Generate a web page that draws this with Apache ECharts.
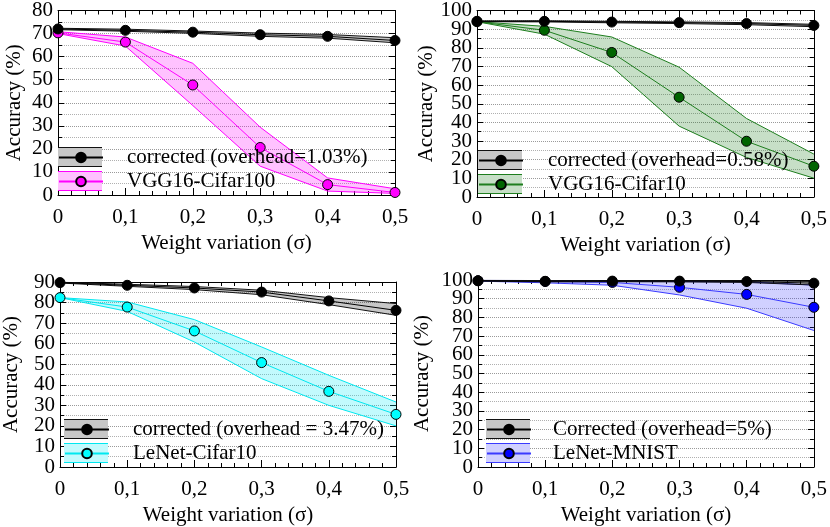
<!DOCTYPE html>
<html><head><meta charset="utf-8">
<script src="https://cdn.jsdelivr.net/npm/echarts@6/dist/echarts.min.js"></script>
<style>html,body{margin:0;padding:0;background:#fff}#c{width:830px;height:527px}</style>
</head><body><div id="c"></div>
<script>
// ---------- data ----------
const sigma = [0, 0.1, 0.2, 0.3, 0.4, 0.5];
const xTickLabels = ['0', '0,1', '0,2', '0,3', '0,4', '0,5'];

// Panel 1 : VGG16-Cifar100
const p1CorrName = 'corrected (overhead=1.03%)';
const p1CorrMean = [72.0, 71.4, 70.6, 69.5, 68.8, 67.0];
const p1CorrUpper = [72.3, 71.9, 71.1, 70.2, 69.6, 68.2];
const p1CorrLower = [71.7, 71.0, 70.1, 68.8, 68.0, 66.0];
const p1ModelName = 'VGG16-Cifar100';
const p1ModelMean = [70.3, 66.3, 47.7, 20.6, 4.5, 1.1];
const p1ModelUpper = [70.8, 68.5, 57.1, 29.4, 7.4, 2.7];
const p1ModelLower = [70.0, 64.6, 38.8, 12.5, 1.7, 0.7];
const p1YMax = 80;

// Panel 2 : VGG16-Cifar10
const p2CorrName = 'corrected (overhead=0.58%)';
const p2CorrMean = [94.2, 94.2, 93.8, 93.5, 93.0, 92.0];
const p2CorrUpper = [94.4, 94.5, 94.2, 93.9, 93.5, 92.6];
const p2CorrLower = [94.0, 93.9, 93.4, 93.0, 92.4, 91.3];
const p2ModelName = 'VGG16-Cifar10';
const p2ModelMean = [94.0, 89.4, 77.5, 53.5, 29.9, 16.5];
const p2ModelUpper = [94.0, 91.5, 85.8, 69.6, 42.1, 23.0];
const p2ModelLower = [94.0, 87.3, 69.9, 38.0, 21.2, 10.1];
const p2YMax = 100;

// Panel 3 : LeNet-Cifar10
const p3CorrName = 'corrected (overhead = 3.47%)';
const p3CorrMean = [89.7, 88.4, 87.1, 85.1, 80.8, 76.2];
const p3CorrUpper = [89.9, 88.9, 87.8, 86.0, 82.4, 79.5];
const p3CorrLower = [89.5, 87.9, 86.3, 83.8, 79.0, 73.8];
const p3ModelName = 'LeNet-Cifar10';
const p3ModelMean = [82.4, 77.8, 66.2, 50.8, 36.8, 25.6];
const p3ModelUpper = [82.4, 80.3, 71.7, 58.4, 44.6, 31.6];
const p3ModelLower = [82.4, 75.7, 60.8, 43.0, 30.0, 20.0];
const p3YMax = 90;

// Panel 4 : LeNet-MNIST
const p4CorrName = 'Corrected (overhead=5%)';
const p4CorrMean = [99.6, 99.3, 99.4, 99.4, 99.2, 98.3];
const p4CorrUpper = [99.8, 99.7, 99.7, 99.7, 99.6, 99.2];
const p4CorrLower = [99.4, 99.0, 99.1, 99.0, 98.7, 97.3];
const p4ModelName = 'LeNet-MNIST';
const p4ModelMean = [99.6, 99.2, 98.7, 96.1, 92.3, 85.4];
const p4ModelUpper = [99.8, 99.7, 99.5, 99.2, 99.0, 97.3];
const p4ModelLower = [99.4, 98.5, 97.2, 92.0, 84.9, 73.0];
const p4YMax = 100;

// ---------- styling / layout ----------
const FONT = 'Liberation Serif';
const FS = 21;
const panels = [
  { corrName: p1CorrName, corrMean: p1CorrMean, corrUp: p1CorrUpper, corrLo: p1CorrLower,
    modName: p1ModelName, modMean: p1ModelMean, modUp: p1ModelUpper, modLo: p1ModelLower, yMax: p1YMax,
    grid: { left: 58, top: 7, width: 337, height: 188 }, yGap: 33,
    line: '#ff00ff', fill: 'rgba(255,0,255,0.24)', pt: '#ff00ff',
    legend: { left: 58, top: 147, pad: 19 } },
  { corrName: p2CorrName, corrMean: p2CorrMean, corrUp: p2CorrUpper, corrLo: p2CorrLower,
    modName: p2ModelName, modMean: p2ModelMean, modUp: p2ModelUpper, modLo: p2ModelLower, yMax: p2YMax,
    grid: { left: 477, top: 8, width: 341, height: 189 }, yGap: 40,
    line: '#1e7e1e', fill: 'rgba(0,110,0,0.22)', pt: '#006400',
    legend: { left: 478, top: 150, pad: 20 } },
  { corrName: p3CorrName, corrMean: p3CorrMean, corrUp: p3CorrUpper, corrLo: p3CorrLower,
    modName: p3ModelName, modMean: p3ModelMean, modUp: p3ModelUpper, modLo: p3ModelLower, yMax: p3YMax,
    grid: { left: 58, top: 282, width: 338, height: 185 }, yGap: 38,
    line: '#00e8f0', fill: 'rgba(0,235,245,0.24)', pt: '#00ffff',
    legend: { left: 64, top: 419, pad: 19 } },
  { corrName: p4CorrName, corrMean: p4CorrMean, corrUp: p4CorrUpper, corrLo: p4CorrLower,
    modName: p4ModelName, modMean: p4ModelMean, modUp: p4ModelUpper, modLo: p4ModelLower, yMax: p4YMax,
    grid: { left: 478, top: 280, width: 340, height: 187 }, yGap: 45,
    line: '#3a3aff', fill: 'rgba(40,40,255,0.22)', pt: '#0000ff',
    legend: { left: 486, top: 419, pad: 17 } }
];

const pairs = (ys) => sigma.map((x, i) => [x, ys[i]]);

const option = { animation: false, backgroundColor: '#fff', grid: [], xAxis: [], yAxis: [], series: [], legend: [], graphic: [] };

panels.forEach((p, i) => {
  option.grid.push(Object.assign({ containLabel: false, show: false }, p.grid));
  const xBase = { type: 'value', gridIndex: i, min: 0, max: 0.5, interval: 0.1,
    axisLine: { show: true, onZero: false, lineStyle: { color: '#000', width: 1 } },
    axisTick: { show: true, inside: true, length: 7, lineStyle: { color: '#000' } },
    minorTick: { show: true, splitNumber: 5, length: 4, lineStyle: { color: '#000' } },
    splitLine: { show: false } };
  option.xAxis.push(Object.assign({}, xBase, { position: 'bottom',
    axisLabel: { show: true, margin: 12, fontFamily: FONT, fontSize: FS, color: '#000',
      showMinLabel: true, showMaxLabel: true, hideOverlap: false,
      formatter: (v) => xTickLabels[Math.round(v * 10)] },
    name: 'Weight variation (σ)', nameLocation: 'middle', nameGap: 38,
    nameTextStyle: { fontFamily: FONT, fontSize: FS, color: '#000' } }));
  option.xAxis.push(Object.assign({}, xBase, { position: 'top', axisLabel: { show: false } }));
  const yBase = { type: 'value', gridIndex: i, min: 0, max: p.yMax, interval: 10,
    axisLine: { show: true, onZero: false, lineStyle: { color: '#000', width: 1 } },
    axisTick: { show: true, inside: true, length: 6, lineStyle: { color: '#000' } },
    minorTick: { show: true, splitNumber: 2, length: 4, lineStyle: { color: '#000' } } };
  // main left axis: inner labels
  option.yAxis.push(Object.assign({}, yBase, { position: 'left',
    splitLine: { show: true, lineStyle: { color: '#9a9a9a', type: [1, 1], width: 1 } },
    minorSplitLine: { show: true, lineStyle: { color: '#b0b0b0', type: [1, 1], width: 1 } },
    axisLabel: { margin: 5, fontFamily: FONT, fontSize: FS, color: '#000',
      showMinLabel: false, showMaxLabel: false, hideOverlap: false },
    name: 'Accuracy (%)', nameLocation: 'middle', nameGap: p.yGap,
    nameTextStyle: { fontFamily: FONT, fontSize: FS, color: '#000' } }));
  // mirror right axis
  option.yAxis.push(Object.assign({}, yBase, { position: 'right', splitLine: { show: false }, axisLabel: { show: false } }));
  // left end labels (0 and max)
  option.yAxis.push({ type: 'value', gridIndex: i, min: 0, max: p.yMax, interval: p.yMax, position: 'left',
    axisLine: { show: false }, axisTick: { show: false }, minorTick: { show: false }, splitLine: { show: false },
    axisLabel: { margin: 5, fontFamily: FONT, fontSize: FS, color: '#000', showMinLabel: true, showMaxLabel: true } });

  const xi = 2 * i, yi = 3 * i;
  const bandSeries = (lo, up, lineColor, fill, z) => ([
    { type: 'custom', xAxisIndex: xi, yAxisIndex: yi, silent: true, z: z, clip: true,
      data: sigma.map((x, k) => [x, lo[k], up[k]]),
      encode: { x: 0, y: [1, 2] },
      renderItem: (params, api) => {
        if (params.dataIndex !== 0) return null;
        const pts = [];
        for (let k = 0; k < sigma.length; k++) pts.push(api.coord([sigma[k], up[k]]));
        for (let k = sigma.length - 1; k >= 0; k--) pts.push(api.coord([sigma[k], lo[k]]));
        return { type: 'polygon', shape: { points: pts }, style: { fill: fill } };
      } },
    { type: 'line', xAxisIndex: xi, yAxisIndex: yi, data: pairs(lo), showSymbol: false, symbol: 'none',
      lineStyle: { color: lineColor, width: 1 }, silent: true, z: z },
    { type: 'line', xAxisIndex: xi, yAxisIndex: yi, data: pairs(up), showSymbol: false, symbol: 'none',
      lineStyle: { color: lineColor, width: 1 }, silent: true, z: z }
  ]);
  // model (drawn first)
  option.series.push(...bandSeries(p.modLo, p.modUp, p.line, p.fill, 2));
  option.series.push({ type: 'line', name: p.modName, xAxisIndex: xi, yAxisIndex: yi, data: pairs(p.modMean),
    symbol: 'circle', symbolSize: 10, clip: false, lineStyle: { color: p.line, width: 1 },
    itemStyle: { color: p.pt, borderColor: '#000', borderWidth: 1 }, z: 3 });
  // corrected (drawn on top)
  option.series.push(...bandSeries(p.corrLo, p.corrUp, '#111', 'rgba(0,0,0,0.22)', 4));
  option.series.push({ type: 'line', name: p.corrName, xAxisIndex: xi, yAxisIndex: yi, data: pairs(p.corrMean),
    symbol: 'circle', symbolSize: 10, clip: false, lineStyle: { color: '#000', width: 1 },
    itemStyle: { color: '#000', borderColor: '#000', borderWidth: 1 }, z: 5 });

  option.legend.push({ orient: 'vertical', left: p.legend.left, top: p.legend.top, padding: 0,
    itemWidth: 44, itemHeight: 12, itemGap: 3, selectedMode: false, z: 8,
    data: [p.corrName, p.modName],
    textStyle: { fontFamily: FONT, fontSize: FS, color: '#000', padding: [0, 0, 0, p.legend.pad] } });

  // legend band boxes
  const L = p.legend;
  [[L.top, 'rgba(0,0,0,0.22)', '#111'], [L.top + 24, p.fill, p.line]].forEach(([ty, f, lc]) => {
    option.graphic.push({ type: 'rect', left: L.left, top: ty, shape: { width: 44, height: 20 }, style: { fill: '#fff' }, z: 7, silent: true });
    option.graphic.push({ type: 'rect', left: L.left, top: ty, shape: { width: 44, height: 20 }, style: { fill: f }, z: 7, silent: true });
    option.graphic.push({ type: 'line', shape: { x1: L.left, y1: ty + 0.5, x2: L.left + 44, y2: ty + 0.5 }, style: { stroke: lc, lineWidth: 1 }, z: 7, silent: true });
    option.graphic.push({ type: 'line', shape: { x1: L.left, y1: ty + 19.5, x2: L.left + 44, y2: ty + 19.5 }, style: { stroke: lc, lineWidth: 1 }, z: 7, silent: true });
  });
});

const chart = echarts.init(document.getElementById('c'), null, { renderer: 'canvas' });
chart.setOption(option);
</script></body></html>
